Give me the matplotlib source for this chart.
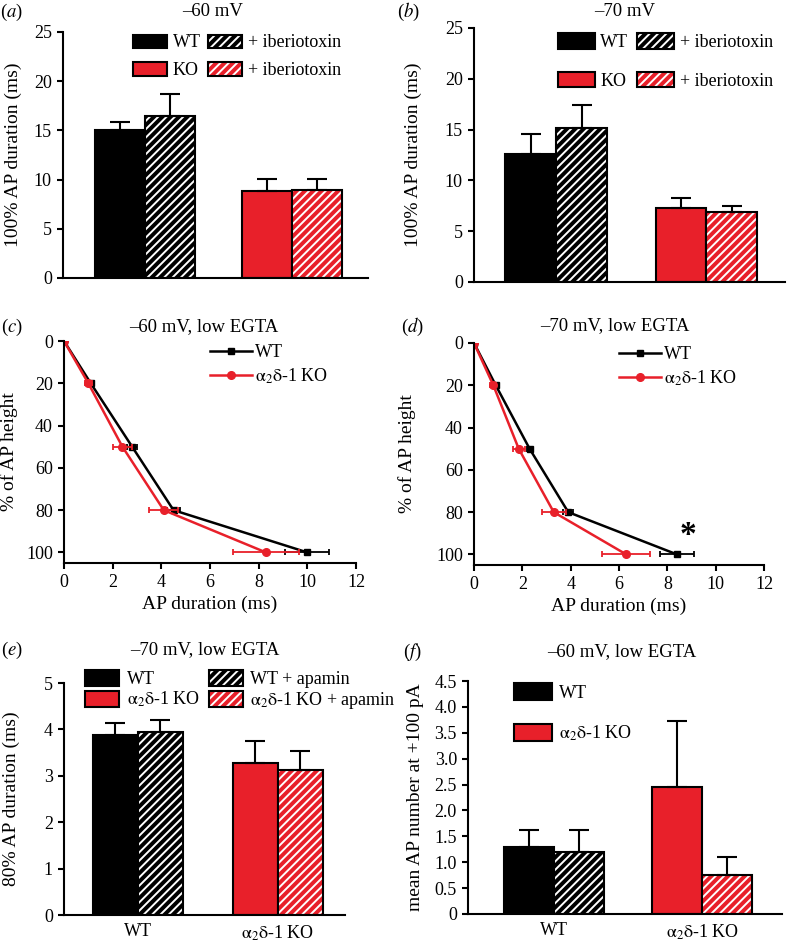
import matplotlib
matplotlib.use("Agg")
import numpy as np
import matplotlib.pyplot as plt
from matplotlib.patches import Patch
from matplotlib.lines import Line2D

plt.rcParams.update({
    "font.family": ["Liberation Serif", "DejaVu Serif"],
    "mathtext.fontset": "stix",
    "font.size": 13,
    "axes.labelsize": 14,
    "axes.linewidth": 1.5,
    "hatch.linewidth": 1.4,
    "xtick.major.width": 1.5,
    "ytick.major.width": 1.5,
    "xtick.major.size": 4,
    "ytick.major.size": 4,
    "xtick.major.pad": 4,
    "ytick.major.pad": 4,
})

RED = "#e8202a"
KO_LABEL = r"$\mathrm{\alpha_2\delta}$-1 KO"

# (a) -60 mV, 100% AP duration: WT, WT+ibtx, KO, KO+ibtx
a_means = [15.0, 16.5, 8.8, 8.9]
a_err = [0.9, 2.2, 1.3, 1.2]
# (b) -70 mV
b_means = [12.6, 15.2, 7.3, 6.9]
b_err = [2.0, 2.2, 1.0, 0.6]

# (c)/(d) AP duration at % of AP height
heights = [0, 20, 50, 80, 100]
c_wt = [0, 1.1, 2.8, 4.5, 10.0]
c_wt_err = [0, 0.12, 0.2, 0.25, 0.9]
c_ko = [0, 1.0, 2.4, 4.1, 8.3]
c_ko_err = [0, 0.15, 0.4, 0.6, 1.35]
d_wt = [0, 0.9, 2.3, 3.9, 8.4]
d_wt_err = [0, 0.1, 0.12, 0.2, 0.7]
d_ko = [0, 0.8, 1.85, 3.3, 6.3]
d_ko_err = [0, 0.12, 0.25, 0.5, 1.0]

# (e) 80% AP duration: WT, WT+apamin, KO, KO+apamin
e_means = [3.88, 3.95, 3.28, 3.13]
e_err = [0.26, 0.26, 0.48, 0.40]
# (f) mean AP number at +100 pA
f_means = [1.29, 1.20, 2.46, 0.75]
f_err = [0.33, 0.42, 1.26, 0.36]
group_labels = ["WT", KO_LABEL]

W, H = 789, 949
fig = plt.figure(figsize=(W / 100, H / 100), dpi=100)


def add_ax(l, t, r, b):
    ax = fig.add_axes([l / W, 1 - b / H, (r - l) / W, (b - t) / H])
    ax.spines["top"].set_visible(False)
    ax.spines["right"].set_visible(False)
    return ax


def put(x, y, s, **kw):
    fig.text(x / W, 1 - y / H, s, ha="center", va="center", fontsize=13.5, **kw)


def ylabel_at(ax, s, xpix):
    # xpix = right edge of the rotated label
    ax.set_ylabel(s)
    bb = ax.get_position()
    ax.yaxis.set_label_coords((xpix - bb.x0 * W) / (bb.width * W), 0.5)


def hatched(color):
    return (Patch(facecolor=color, edgecolor="white", hatch="////", linewidth=0),
            Patch(facecolor="none", edgecolor="black", linewidth=1.5))


def solid(color):
    return Patch(facecolor=color, edgecolor="black", linewidth=1.5)


def bars(ax, means, errs, gap):
    xs = [0, 1, gap, gap + 1]
    cols = ["black", "black", RED, RED]
    for i, (x, m, c) in enumerate(zip(xs, means, cols)):
        if i % 2 == 1:
            ax.bar(x, m, width=1, color=c, edgecolor="white", hatch="////", linewidth=0)
            ax.bar(x, m, width=1, facecolor="none", edgecolor="black", linewidth=1.5)
        else:
            ax.bar(x, m, width=1, color=c, edgecolor="black", linewidth=1.5)
    ax.errorbar(xs, means, yerr=[np.zeros(len(means)), errs], fmt="none",
                ecolor="black", elinewidth=1.5, capsize=7, capthick=1.5)
    ax.tick_params(axis="x", length=0, pad=6)
    return xs


# ---- (a)
ax = add_ax(63, 32, 368, 278)
bars(ax, a_means, a_err, 2.94)
ax.set_xlim(-1.14, 4.96)
ax.set_ylim(0, 25)
ax.set_xticks([])
ylabel_at(ax, "100% AP duration (ms)", 22)
ax.legend([solid("black"), solid(RED), hatched("black"), hatched(RED)],
          ["WT", "KO", "+ iberiotoxin", "+ iberiotoxin"], ncol=2, frameon=False,
          loc="upper left", bbox_to_anchor=(0.23, 0.99), borderpad=0, borderaxespad=0,
          handlelength=1.9, handleheight=0.75, handletextpad=0.3, columnspacing=0.4,
          labelspacing=0.6)
put(213, 11, "–60 mV")
put(12, 12, r"($\mathit{a}$)")

# ---- (b)
ax = add_ax(474, 28, 785, 282)
bars(ax, b_means, b_err, 2.95)
ax.set_xlim(-1.11, 4.99)
ax.set_ylim(0, 25)
ax.set_xticks([])
ylabel_at(ax, "100% AP duration (ms)", 422)
ax.legend([solid("black"), solid(RED), hatched("black"), hatched(RED)],
          ["WT", "KO", "+ iberiotoxin", "+ iberiotoxin"], ncol=2, frameon=False,
          loc="upper left", bbox_to_anchor=(0.27, 0.98), borderpad=0, borderaxespad=0,
          handlelength=2.05, handleheight=0.95, handletextpad=0.3, columnspacing=0.5,
          labelspacing=1.15)
put(625, 12, "–70 mV")
put(408, 12, r"($\mathit{b}$)")


def lines(ax, wt, wt_err, ko, ko_err):
    ax.errorbar(wt, heights, xerr=wt_err, fmt="none", ecolor="black",
                elinewidth=1.3, capsize=2.5, capthick=1.3)
    ax.plot(wt, heights, color="black", lw=1.8, marker="s", ms=5)
    ax.errorbar(ko, heights, xerr=ko_err, fmt="none", ecolor=RED,
                elinewidth=1.3, capsize=2.5, capthick=1.3)
    ax.plot(ko, heights, color=RED, lw=1.8, marker="o", ms=5.5)
    ax.set_xlim(0, 12)
    ax.set_ylim(105, 0)
    ax.set_xticks(range(0, 13, 2))
    ax.set_yticks(range(0, 101, 20))
    ax.set_xlabel("AP duration (ms)", labelpad=3)
    handles = [Line2D([], [], color="black", lw=1.8, marker="s", ms=5),
               Line2D([], [], color=RED, lw=1.8, marker="o", ms=5.5)]
    ax.legend(handles, ["WT", KO_LABEL], frameon=False, loc="upper left",
              bbox_to_anchor=(0.5, 0.985), borderpad=0, borderaxespad=0,
              handlelength=2.3, handletextpad=0.2, labelspacing=0.3)


# ---- (c)
ax = add_ax(64, 341, 356, 563)
lines(ax, c_wt, c_wt_err, c_ko, c_ko_err)
ylabel_at(ax, "% of AP height", 18)
put(204, 327, "–60 mV, low EGTA")
put(12, 327, r"($\mathit{c}$)")

# ---- (d)
ax = add_ax(474, 343, 764, 565)
lines(ax, d_wt, d_wt_err, d_ko, d_ko_err)
ylabel_at(ax, "% of AP height", 416)
ax.text(8.86, 91, "*", ha="center", va="center", fontsize=24, fontweight="bold")
put(615, 326, "–70 mV, low EGTA")
put(412, 327, r"($\mathit{d}$)")

# ---- (e)
ax = add_ax(64, 683, 345, 915)
bars(ax, e_means, e_err, 3.11)
ax.set_xlim(-1.14, 5.1)
ax.set_ylim(0, 5)
ax.set_xticks([0.5, 3.61])
ax.set_xticklabels(group_labels)
ylabel_at(ax, "80% AP duration (ms)", 20)
ax.legend([solid("black"), solid(RED), hatched("black"), hatched(RED)],
          ["WT", KO_LABEL, "WT + apamin", KO_LABEL + " + apamin"], ncol=2,
          frameon=False, loc="upper left", bbox_to_anchor=(0.075, 1.055),
          borderpad=0, borderaxespad=0, handlelength=1.9, handleheight=0.95,
          handletextpad=0.4, columnspacing=0.5, labelspacing=0.1)
put(205, 650, "–70 mV, low EGTA")
put(12, 650, r"($\mathit{e}$)")

# ---- (f)
ax = add_ax(468, 681, 782, 914)
bars(ax, f_means, f_err, 2.96)
ax.set_xlim(-1.22, 5.06)
ax.set_ylim(0, 4.5)
ax.set_yticks(np.arange(0, 4.6, 0.5))
ax.set_yticklabels(["0"] + [f"{v:.1f}" for v in np.arange(0.5, 4.6, 0.5)])
ax.set_xticks([0.5, 3.46])
ax.set_xticklabels(group_labels)
ylabel_at(ax, "mean AP number at +100 pA", 424)
ax.legend([solid("black"), solid(RED)], ["WT", KO_LABEL], frameon=False,
          loc="upper left", bbox_to_anchor=(0.147, 0.99), borderpad=0, borderaxespad=0,
          handlelength=2.1, handleheight=1.05, handletextpad=0.4, labelspacing=1.2)
put(622, 652, "–60 mV, low EGTA")
put(412, 652, r"($\mathit{f}$)")

fig.savefig("out.png", dpi=100)
